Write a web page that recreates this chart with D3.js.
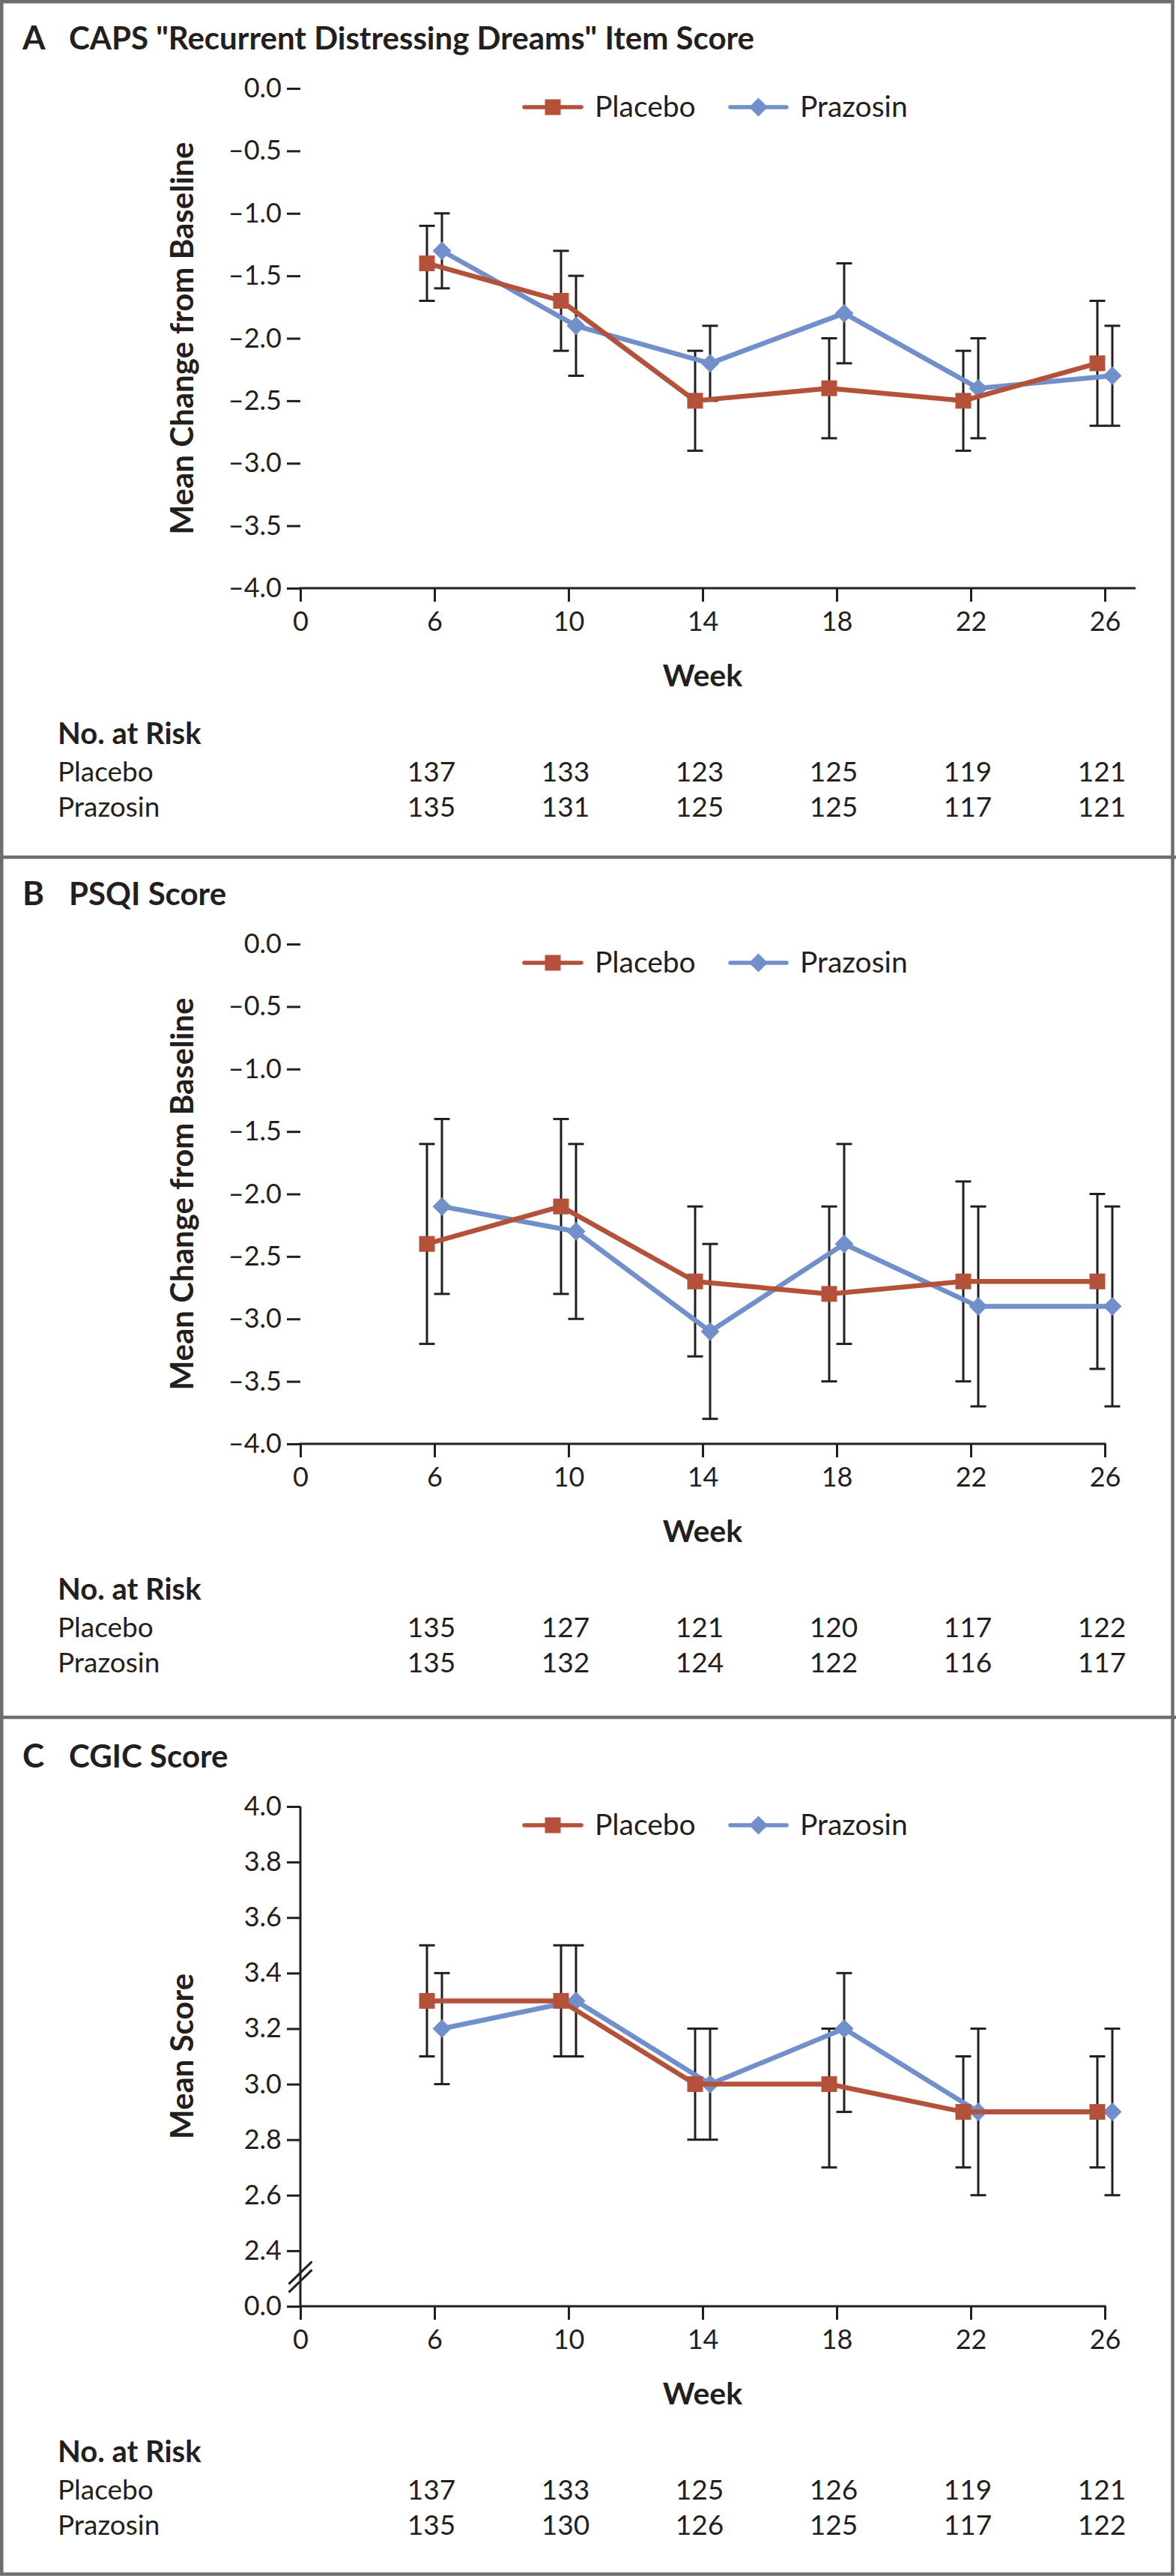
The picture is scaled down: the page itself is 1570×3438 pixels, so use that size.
<!DOCTYPE html>
<html>
<head>
<meta charset="utf-8">
<script src="https://cdn.jsdelivr.net/npm/d3@7"></script>
<style>
  html, body { margin: 0; padding: 0; background: #fff; }
  svg { display: block; }
  text { font-family: Lato, "Open Sans", "Noto Sans", sans-serif; fill: #231f20; }
</style>
</head>
<body>
<svg id="chart"></svg>
<script>
// Week ticks on the x axis and the visits that carry data
const weekLabels = ['0', '6', '10', '14', '18', '22', '26'];
const visitWeeks = ['6', '10', '14', '18', '22', '26'];

// Panel A: CAPS "Recurrent Distressing Dreams"
const capsPlacebo = [-1.4, -1.7, -2.5, -2.4, -2.5, -2.2];
const capsPlaceboCI = [[-1.1, -1.7], [-1.3, -2.1], [-2.1, -2.9], [-2.0, -2.8], [-2.1, -2.9], [-1.7, -2.7]];
const capsPrazosin = [-1.3, -1.9, -2.2, -1.8, -2.4, -2.3];
const capsPrazosinCI = [[-1.0, -1.6], [-1.5, -2.3], [-1.9, -2.5], [-1.4, -2.2], [-2.0, -2.8], [-1.9, -2.7]];
const capsRiskPlacebo = [137, 133, 123, 125, 119, 121];
const capsRiskPrazosin = [135, 131, 125, 125, 117, 121];

// Panel B: PSQI
const psqiPlacebo = [-2.4, -2.1, -2.7, -2.8, -2.7, -2.7];
const psqiPlaceboCI = [[-1.6, -3.2], [-1.4, -2.8], [-2.1, -3.3], [-2.1, -3.5], [-1.9, -3.5], [-2.0, -3.4]];
const psqiPrazosin = [-2.1, -2.3, -3.1, -2.4, -2.9, -2.9];
const psqiPrazosinCI = [[-1.4, -2.8], [-1.6, -3.0], [-2.4, -3.8], [-1.6, -3.2], [-2.1, -3.7], [-2.1, -3.7]];
const psqiRiskPlacebo = [135, 127, 121, 120, 117, 122];
const psqiRiskPrazosin = [135, 132, 124, 122, 116, 117];

// Panel C: CGIC
const cgicPlacebo = [3.3, 3.3, 3.0, 3.0, 2.9, 2.9];
const cgicPlaceboCI = [[3.5, 3.1], [3.5, 3.1], [3.2, 2.8], [3.2, 2.7], [3.1, 2.7], [3.1, 2.7]];
const cgicPrazosin = [3.2, 3.3, 3.0, 3.2, 2.9, 2.9];
const cgicPrazosinCI = [[3.4, 3.0], [3.5, 3.1], [3.2, 2.8], [3.4, 2.9], [3.2, 2.6], [3.2, 2.6]];
const cgicRiskPlacebo = [137, 133, 125, 126, 119, 121];
const cgicRiskPrazosin = [135, 130, 126, 125, 117, 122];

// Y tick values
const changeTicks = [0, -0.5, -1.0, -1.5, -2.0, -2.5, -3.0, -3.5, -4.0];
const scoreTicks = [0, 2.4, 2.6, 2.8, 3.0, 3.2, 3.4, 3.6, 3.8, 4.0];

const W = 1570, H = 3438;
const INK = '#231f20';
const FRAME = '#6d6e71';
const colors = { Placebo: '#b4513a', Prazosin: '#7190cb' };

// shared plot geometry (relative to each panel's top)
const xLeft = 401, xRight = 1475;
const yTop = 118, yBottom = 785;
const groupOffset = { Placebo: -10, Prazosin: 10 };

const panels = [
  {
    top: 0, letter: 'A', title: 'CAPS "Recurrent Distressing Dreams" Item Score',
    yLabel: 'Mean Change from Baseline', ticks: changeTicks, axisEnd: 1516, broken: false,
    series: [
      { name: 'Prazosin', mean: capsPrazosin, ci: capsPrazosinCI },
      { name: 'Placebo', mean: capsPlacebo, ci: capsPlaceboCI }
    ],
    risk: [['Placebo', capsRiskPlacebo], ['Prazosin', capsRiskPrazosin]]
  },
  {
    top: 1142, letter: 'B', title: 'PSQI Score',
    yLabel: 'Mean Change from Baseline', ticks: changeTicks, axisEnd: null, broken: false,
    series: [
      { name: 'Prazosin', mean: psqiPrazosin, ci: psqiPrazosinCI },
      { name: 'Placebo', mean: psqiPlacebo, ci: psqiPlaceboCI }
    ],
    risk: [['Placebo', psqiRiskPlacebo], ['Prazosin', psqiRiskPrazosin]]
  },
  {
    top: 2293, letter: 'C', title: 'CGIC Score',
    yLabel: 'Mean Score', ticks: scoreTicks, axisEnd: null, broken: true,
    series: [
      { name: 'Prazosin', mean: cgicPrazosin, ci: cgicPrazosinCI },
      { name: 'Placebo', mean: cgicPlacebo, ci: cgicPlaceboCI }
    ],
    risk: [['Placebo', cgicRiskPlacebo], ['Prazosin', cgicRiskPrazosin]]
  }
];

const svg = d3.select('#chart').attr('width', W).attr('height', H);
svg.append('rect').attr('width', W).attr('height', H).attr('fill', '#fff');

const x = d3.scalePoint().domain(weekLabels).range([xLeft, xRight]);

// one-decimal labels with an en-dash minus, as in the journal style
const fmt1 = d => d3.format('.1f')(Math.abs(d) < 1e-9 ? 0 : d).replace('\u2212', '\u2013').replace('-', '\u2013');

panels.forEach(p => drawPanel(p));

// frame and separators on top
svg.append('rect')
  .attr('x', 2.25).attr('y', 2.25)
  .attr('width', 1565.5 - 2.25).attr('height', 3435.5 - 2.25)
  .attr('fill', 'none').attr('stroke', FRAME).attr('stroke-width', 4.5);
[1144, 2292].forEach(yy => {
  svg.append('line')
    .attr('x1', 0).attr('x2', W).attr('y1', yy).attr('y2', yy)
    .attr('stroke', FRAME).attr('stroke-width', 4.5);
});

function drawPanel(p) {
  const g = svg.append('g').attr('transform', `translate(0,${p.top})`);

  let y;
  if (p.broken) {
    const step = (yBottom - yTop) / 9;
    y = d3.scaleLinear().domain([0, 2.4, 4.0]).range([yBottom, yBottom - step, yTop]);
  } else {
    y = d3.scaleLinear().domain([-4, 0]).range([yBottom, yTop]);
  }

  // panel title
  g.append('text').attr('x', 30).attr('y', 66)
    .attr('font-size', 44).attr('font-weight', 700).text(p.letter);
  g.append('text').attr('x', 92).attr('y', 66)
    .attr('font-size', 42).attr('font-weight', 700).text(p.title);

  // y axis
  const yAxis = g.append('g')
    .attr('transform', `translate(${xLeft},0)`)
    .call(d3.axisLeft(y)
      .tickValues(p.ticks)
      .tickSize(18)
      .tickSizeOuter(0)
      .tickPadding(7)
      .tickFormat(fmt1));
  yAxis.select('.domain').remove();
  yAxis.selectAll('line').attr('stroke', INK).attr('stroke-width', 3);
  yAxis.selectAll('text')
    .attr('font-size', 36).attr('fill', INK)
    .style('font-family', 'Lato, "Open Sans", sans-serif');

  // x axis
  const xAxis = g.append('g')
    .attr('transform', `translate(0,${yBottom})`)
    .call(d3.axisBottom(x).tickSize(18).tickSizeOuter(0));
  xAxis.select('.domain').remove();
  xAxis.selectAll('line').attr('stroke', INK).attr('stroke-width', 3);
  xAxis.selectAll('text')
    .attr('y', 57).attr('dy', 0)
    .attr('font-size', 36).attr('fill', INK)
    .style('font-family', 'Lato, "Open Sans", sans-serif');

  // axis lines
  g.append('line')
    .attr('x1', xLeft).attr('x2', xLeft)
    .attr('y1', y(p.ticks[p.ticks.length - 1])).attr('y2', yBottom + 1.5)
    .attr('stroke', INK).attr('stroke-width', 3);
  g.append('line')
    .attr('x1', xLeft - 1.5).attr('x2', p.axisEnd || x('26') + 1.5)
    .attr('y1', yBottom).attr('y2', yBottom)
    .attr('stroke', INK).attr('stroke-width', 3);

  // axis break marks
  if (p.broken) {
    const midY = (y(0) + y(2.4)) / 2 - 2;
    [-5.5, 5.5].forEach(off => {
      g.append('line')
        .attr('x1', xLeft - 15.5).attr('y1', midY + off + 15)
        .attr('x2', xLeft + 15.5).attr('y2', midY + off - 15)
        .attr('stroke', INK).attr('stroke-width', 3);
    });
  }

  // y axis label
  g.append('text')
    .attr('transform', `translate(258,${(yTop + yBottom) / 2}) rotate(-90)`)
    .attr('text-anchor', 'middle')
    .attr('font-size', 42).attr('font-weight', 700)
    .text(p.yLabel);

  // x axis label
  g.append('text')
    .attr('x', x('14')).attr('y', 916)
    .attr('text-anchor', 'middle')
    .attr('font-size', 41).attr('font-weight', 700)
    .text('Week');

  // error bars
  p.series.forEach(s => {
    const cx = w => x(w) + groupOffset[s.name];
    const bars = g.append('g').attr('class', 'errorbars');
    visitWeeks.forEach((w, i) => {
      const [hi, lo] = s.ci[i];
      bars.append('line')
        .attr('x1', cx(w)).attr('x2', cx(w))
        .attr('y1', y(hi)).attr('y2', y(lo))
        .attr('stroke', INK).attr('stroke-width', 3);
      [hi, lo].forEach(v => {
        bars.append('line')
          .attr('x1', cx(w) - 10.5).attr('x2', cx(w) + 10.5)
          .attr('y1', y(v)).attr('y2', y(v))
          .attr('stroke', INK).attr('stroke-width', 3);
      });
    });
  });

  // lines and markers
  p.series.forEach(s => {
    const pts = visitWeeks.map((w, i) => [x(w) + groupOffset[s.name], y(s.mean[i])]);
    g.append('path')
      .attr('d', d3.line()(pts))
      .attr('fill', 'none')
      .attr('stroke', colors[s.name])
      .attr('stroke-width', 6.5)
      .attr('stroke-linejoin', 'round');
    pts.forEach(pt => drawMarker(g, s.name, pt[0], pt[1], 1));
  });

  // legend
  const legendY = 143;
  [['Placebo', 700, 776, 794], ['Prazosin', 975, 1050, 1068]].forEach(([name, x1, x2, tx]) => {
    g.append('line')
      .attr('x1', x1).attr('x2', x2).attr('y1', legendY).attr('y2', legendY)
      .attr('stroke', colors[name]).attr('stroke-width', 5.5)
      .attr('stroke-linecap', 'round');
    drawMarker(g, name, (x1 + x2) / 2, legendY, 1);
    g.append('text')
      .attr('x', tx).attr('y', legendY + 13)
      .attr('font-size', 39)
      .text(name);
  });

  // number at risk
  g.append('text').attr('x', 77).attr('y', 993)
    .attr('font-size', 40).attr('font-weight', 700)
    .text('No. at Risk');
  p.risk.forEach(([name, counts], r) => {
    const rowY = r === 0 ? 1043 : 1090;
    g.append('text').attr('x', 77).attr('y', rowY)
      .attr('font-size', 37).text(name);
    g.append('g').selectAll('text')
      .data(counts)
      .enter()
      .append('text')
      .attr('x', (d, i) => x(visitWeeks[i]) - 4)
      .attr('y', rowY)
      .attr('text-anchor', 'middle')
      .attr('font-size', 37)
      .text(d => d);
  });
}

function drawMarker(g, name, cx, cy, k) {
  if (name === 'Placebo') {
    const s = 21 * k;
    g.append('rect')
      .attr('x', cx - s / 2).attr('y', cy - s / 2)
      .attr('width', s).attr('height', s)
      .attr('fill', colors.Placebo);
  } else {
    const hw = 12.5 * k, hh = 12.5 * k;
    g.append('path')
      .attr('d', `M${cx},${cy - hh}L${cx + hw},${cy}L${cx},${cy + hh}L${cx - hw},${cy}Z`)
      .attr('fill', colors.Prazosin);
  }
}
</script>
</body>
</html>
